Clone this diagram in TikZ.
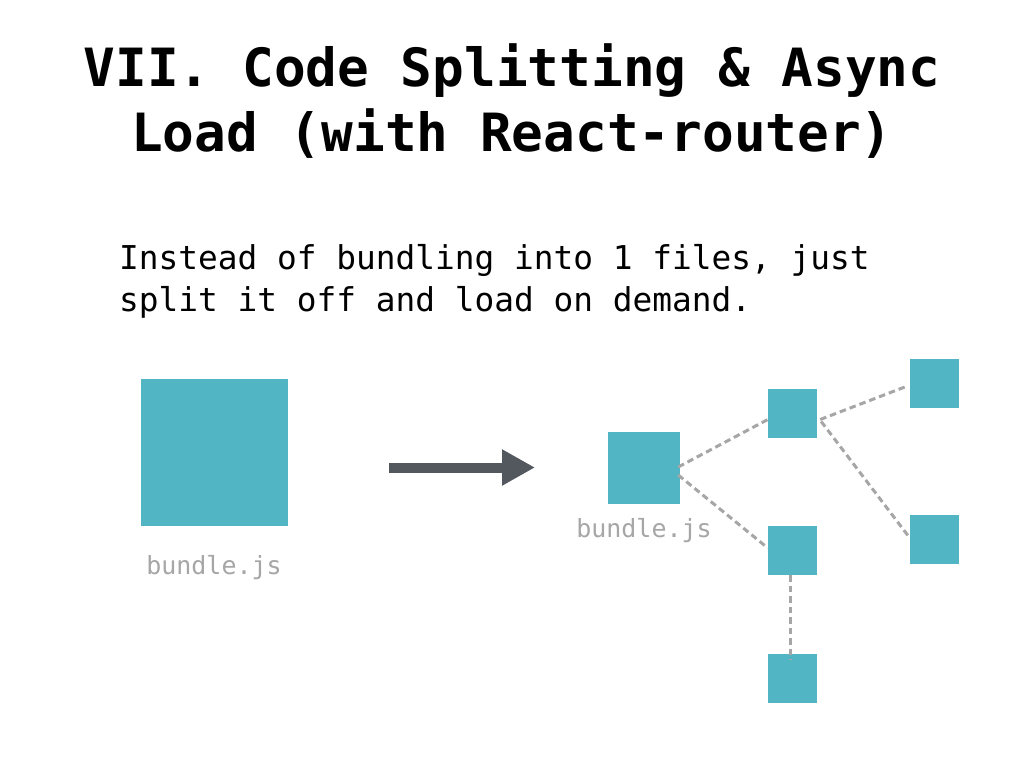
\documentclass[tikz,border=0pt]{standalone}
\usepackage{fontspec}
\setmonofont{DejaVu Sans Mono}
\usetikzlibrary{arrows.meta,calc}
\definecolor{teal}{HTML}{52B5C4}
\definecolor{arrowgray}{HTML}{53575E}
\definecolor{dashgray}{HTML}{A6A6A6}
\definecolor{labelgray}{HTML}{A6A6A6}
\tikzset{
  box/.style={fill=teal, draw=none, inner sep=0pt, minimum size=#1},
  link/.style={draw=dashgray, line width=3pt, dash pattern=on 6.5pt off 4pt},
  bigarrow/.style={draw=arrowgray, line width=10pt, -{Triangle[length=33pt,width=34pt]}},
  lbl/.style={text=labelgray, font=\ttfamily\fontsize{25}{30}\selectfont, inner sep=0pt, anchor=base},
}
\begin{document}
\begin{tikzpicture}[x=1pt,y=-1pt]
\useasboundingbox (0,0) rectangle (1024,768);
% title
\node[anchor=base, align=center, inner sep=0pt, font=\ttfamily\bfseries\fontsize{52.7}{65}\selectfont] (title) at (512,151)
  {VII. Code Splitting \& Async\\Load (with React-router)};
% body
\node[anchor=base west, align=left, inner sep=0pt, font=\ttfamily\fontsize{32.8}{42}\selectfont] (body) at (119,311)
  {Instead of bundling into 1 files, just\\split it off and load on demand.};
% boxes
\node[box=147pt] (big) at (214.5,452.5) {};
\node[lbl] (biglbl) at (214,574) {bundle.js};
\node[box=72pt] (m) at (644,468) {};
\node[lbl] (mlbl) at (644,537) {bundle.js};
\node[box=49pt] (A) at (792.5,413) {};
\node[box=49pt] (B) at (792.5,550.5) {};
\node[box=49pt] (C) at (792.5,678) {};
\node[box=49pt] (D) at (934.5,383.5) {};
\node[box=49pt] (E) at (934.5,539.5) {};
% arrow
\coordinate (as) at (389,467.5);
\coordinate (ae) at (535,467.5);
\draw[bigarrow] (as) -- (ae);
% dashed links
\draw[link] ($(m.east)+(-2,-1)$) -- ($(A.west)+(0,6.5)$);
\draw[link] ($(m.east)+(-2,7)$) -- ($(B.west)+(0,-2.5)$);
\draw[link] ($(A.east)+(3,6.5)$) -- ($(D.west)+(-5,3.5)$);
\draw[link] ($(A.east)+(4,8.5)$) -- ($(E.west)+(0,-1.5)$);
\draw[link] ($(B.south)+(-2.5,0)$) -- ($(C.north)+(-2.5,6)$);
\end{tikzpicture}
\end{document}
